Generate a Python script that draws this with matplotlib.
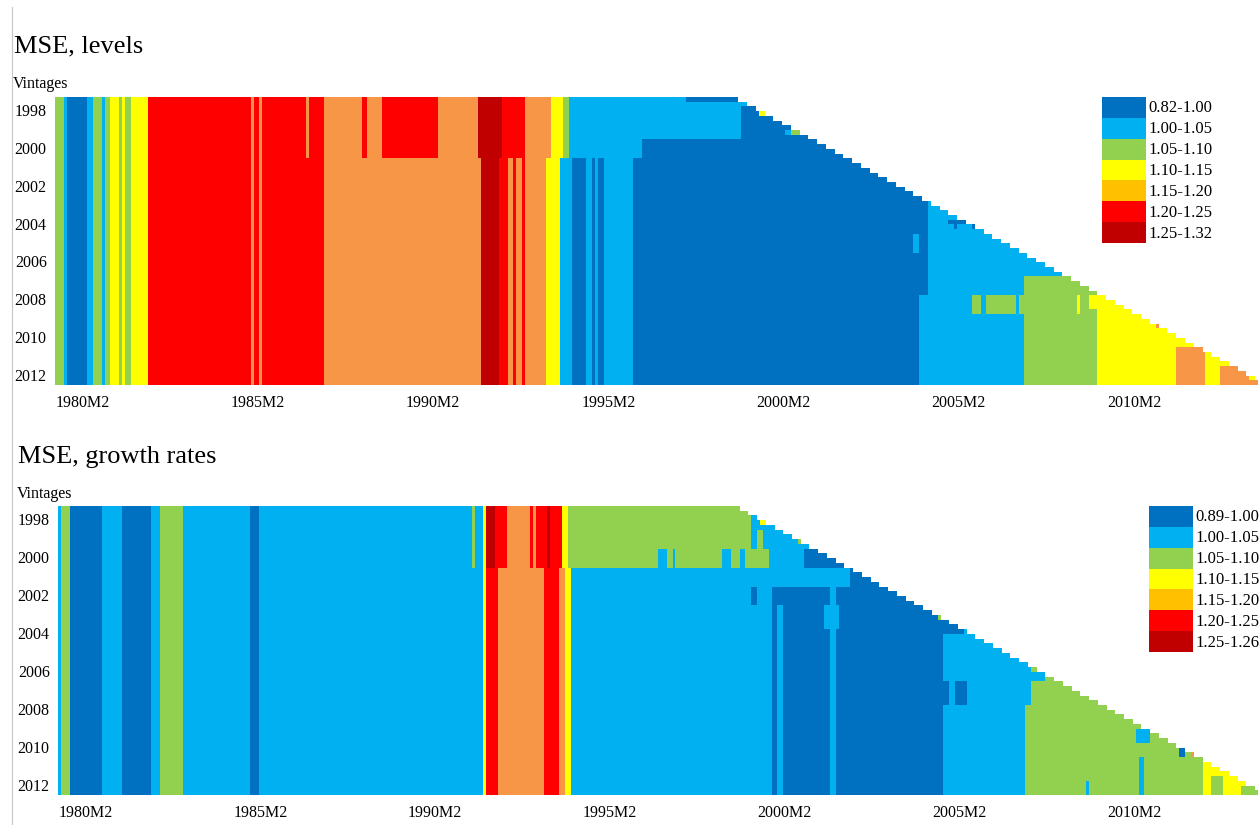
import numpy as np
import matplotlib.pyplot as plt
from matplotlib.colors import ListedColormap, BoundaryNorm
from matplotlib.lines import Line2D

plt.rcParams['font.family'] = ['Liberation Serif', 'DejaVu Serif']

# grid: months 1979M5..2013M8 (columns), quarterly vintages 1997Q3..2012Q3 (rows)
first_month = 1979 + 4 / 12
n_months = 412
first_vintage = 1997.5
n_vintages = 61
pub_lag = 4 / 3  # last month available in a vintage, in years after the vintage date

# class codes: 0 .. 6 (lowest to highest MSE ratio band)
cell_colors = ['#0070C0', '#00B0F0', '#92D050', '#FFFF00', '#F79646', '#FF0000', '#C00000']
legend_colors = ['#0070C0', '#00B0F0', '#92D050', '#FFFF00', '#FFC000', '#FF0000', '#C00000']
levels_labels = ['0.82-1.00', '1.00-1.05', '1.05-1.10', '1.10-1.15', '1.15-1.20', '1.20-1.25', '1.25-1.32']
growth_labels = ['0.89-1.00', '1.00-1.05', '1.05-1.10', '1.10-1.15', '1.15-1.20', '1.20-1.25', '1.25-1.26']

x_tick_labels = ['1980M2', '1985M2', '1990M2', '1995M2', '2000M2', '2005M2', '2010M2']
y_tick_labels = ['1998', '2000', '2002', '2004', '2006', '2008', '2010', '2012']

# ---- MSE, levels: pattern of the latest vintages (start of each band, in years)
levels_starts = [1979.33, 1979.56, 1979.65, 1980.25, 1980.42, 1980.67, 1980.73, 1980.90,
                 1981.16, 1981.24, 1981.33, 1981.50, 1981.96, 1984.92, 1984.98, 1985.15,
                 1985.27, 1987.00, 1991.48, 1991.97, 1992.22, 1992.45, 1992.54, 1992.65,
                 1992.71, 1993.31, 1993.76, 1994.08, 1994.48, 1994.70, 1994.79, 1994.85,
                 1994.96, 1995.82, 2003.98, 2007.00, 2009.11]
levels_classes = [2, 1, 0, 1, 2, 1, 2, 3,
                  2, 3, 2, 3, 5, 4, 5, 4,
                  5, 4, 6, 5, 4, 5, 4, 5,
                  4, 3, 1, 0, 1, 0, 1, 0,
                  1, 0, 1, 2, 3]
# blocks that differ in some vintages: (from, to, first vintage, last vintage, class)
levels_blocks = [
    (1986.50, 1986.59, 1997.5, 2000.75, 4),
    (1988.12, 1988.29, 1997.5, 2000.75, 5),
    (1988.63, 1990.23, 1997.5, 2000.75, 5),
    (1991.40, 1992.08, 1997.5, 2000.75, 6),
    (1992.08, 1992.71, 1997.5, 2000.75, 5),
    (1992.71, 1993.48, 1997.5, 2000.75, 4),
    (1993.48, 1993.82, 1997.5, 2000.75, 3),
    (1993.82, 1993.97, 1997.5, 2000.75, 2),
    (1993.97, 2014.00, 1997.5, 1999.75, 1),
    (1993.97, 1996.08, 1999.75, 2000.75, 1),
    (1996.08, 2014.00, 1999.75, 2000.75, 0),
    (1997.30, 2014.00, 1997.5, 1997.75, 0),
    (1998.93, 2014.00, 1998.0, 1999.75, 0),
    (1999.45, 1999.60, 1998.25, 1998.5, 3),
    (2000.15, 2000.35, 1999.25, 1999.5, 1),
    (2000.35, 2000.58, 1999.25, 1999.5, 2),
    (2003.98, 2004.26, 1997.5, 2007.9, 0),
    (2003.83, 2003.98, 2004.75, 2005.75, 1),
    (2007.00, 2009.11, 1997.5, 2006.9, 1),
    (2005.50, 2005.78, 2008.0, 2008.9, 2),
    (2005.92, 2006.77, 2008.0, 2008.9, 2),
    (2006.85, 2007.00, 2008.0, 2008.9, 2),
    (2008.50, 2008.62, 2008.0, 2008.9, 3),
    (2008.85, 2009.11, 2007.75, 2008.75, 3),
    (2011.33, 2012.30, 2010.75, 2011.0, 4),
    (2011.36, 2012.13, 2011.0, 2013.0, 4),
    (2012.62, 2014.00, 2011.6, 2013.0, 4),
    (2013.45, 2013.60, 2012.25, 2012.5, 3),
    # cells along the edge
    (2004.30, 2004.45, 2003.0, 2003.25, 3),
    (2004.45, 2004.55, 2003.0, 2003.25, 5),
    (2004.60, 2004.90, 2003.25, 2003.5, 2),
    (2004.80, 2005.35, 2003.95, 2004.25, 0),
    (2005.00, 2005.10, 2004.25, 2004.5, 0),
    (2005.50, 2005.80, 2004.25, 2004.5, 0),
    (2006.10, 2006.35, 2004.75, 2005.0, 0),
    (2006.70, 2006.85, 2005.25, 2005.5, 0),
    (2007.20, 2007.30, 2005.75, 2006.0, 2),
    (2007.30, 2007.60, 2006.0, 2006.25, 0),
    (2007.85, 2008.10, 2006.25, 2006.6, 0),
    (2008.10, 2008.30, 2006.5, 2006.75, 3),
    (2008.10, 2008.60, 2006.75, 2007.0, 0),
    (2008.60, 2008.75, 2007.0, 2007.25, 4),
    (2008.75, 2008.85, 2007.0, 2007.25, 6),
    (2008.85, 2009.10, 2007.75, 2008.0, 2),
    (2009.10, 2009.35, 2007.75, 2008.0, 1),
    (2010.05, 2010.25, 2008.75, 2009.0, 4),
    (2010.25, 2010.35, 2008.75, 2009.0, 5),
    (2010.40, 2010.55, 2009.0, 2009.25, 2),
    (2010.60, 2010.80, 2009.25, 2009.5, 4),
    (2010.80, 2010.90, 2009.25, 2009.5, 5),
    (2010.75, 2010.95, 2009.5, 2009.75, 4),
    (2011.36, 2011.60, 2010.0, 2010.25, 1),
    (2011.60, 2011.85, 2010.25, 2010.5, 5),
    (2012.30, 2012.40, 2010.75, 2011.0, 2),
]

# ---- MSE, growth rates
growth_starts = [1979.33, 1979.42, 1979.68, 1980.59, 1981.19, 1982.01, 1982.24, 1982.93,
                 1984.84, 1985.12, 1991.46, 1991.57, 1991.88, 1993.25, 1993.65, 1993.85,
                 1993.99, 1999.75, 1999.93, 2000.07, 2001.41, 2001.61, 2004.69, 2007.00,
                 2012.13, 2012.25, 2012.70, 2013.13]
growth_classes = [1, 2, 0, 1, 0, 1, 2, 1,
                  0, 1, 3, 5, 4, 5, 4, 3,
                  1, 0, 1, 0, 1, 0, 1, 2,
                  3, 2, 3, 2]
growth_blocks = [
    (1991.13, 1991.23, 1997.5, 2000.75, 2),
    (1991.57, 1991.82, 1997.5, 2000.75, 6),
    (1991.82, 1992.17, 1997.5, 2000.75, 5),
    (1992.17, 1992.82, 1997.5, 2000.75, 4),
    (1992.82, 1992.92, 1997.5, 2000.75, 5),
    (1992.92, 1993.00, 1997.5, 2000.75, 4),
    (1993.00, 1993.37, 1997.5, 2000.75, 5),
    (1993.37, 1993.45, 1997.5, 2000.75, 6),
    (1993.45, 1993.74, 1997.5, 2000.75, 5),
    (1993.74, 1993.88, 1997.5, 2000.75, 3),
    (1993.88, 1999.13, 1997.5, 1999.75, 2),
    (1999.13, 2014.00, 1997.5, 1999.75, 1),
    (1999.30, 1999.50, 1998.75, 1999.75, 2),
    (1999.45, 1999.60, 1998.25, 1998.5, 3),
    (1993.88, 1999.64, 1999.75, 2000.75, 2),
    (1996.50, 1996.73, 1999.75, 2000.75, 1),
    (1996.92, 1997.00, 1999.75, 2000.75, 1),
    (1998.33, 1998.59, 1999.75, 2000.75, 1),
    (1998.87, 1998.99, 1999.75, 2000.75, 1),
    (1999.64, 2000.70, 1999.75, 2000.75, 1),
    (2000.70, 2014.00, 1999.75, 2000.75, 0),
    (2000.50, 2000.60, 1999.25, 1999.5, 2),
    (1993.99, 2002.00, 2000.75, 2001.75, 1),
    (2002.00, 2014.00, 2000.75, 2001.75, 0),
    (1999.15, 1999.36, 2001.75, 2002.75, 0),
    (1999.93, 2000.07, 2001.75, 2002.75, 0),
    (2001.27, 2001.69, 2002.75, 2003.9, 1),
    (2004.50, 2004.60, 2003.25, 2003.5, 2),
    (2004.69, 2005.25, 2003.5, 2004.25, 0),
    (2005.50, 2005.85, 2004.0, 2004.25, 0),
    (2004.69, 2004.80, 2006.75, 2007.9, 0),
    (2005.00, 2005.30, 2006.75, 2007.9, 0),
    (2007.00, 2008.10, 1997.5, 2006.75, 1),
    (2007.00, 2007.20, 2006.75, 2007.9, 1),
    (2007.20, 2007.35, 2006.0, 2006.25, 2),
    (2007.55, 2007.85, 2006.5, 2006.75, 2),
    (2008.10, 2008.50, 2006.75, 2007.0, 1),
    (2008.50, 2008.65, 2006.75, 2007.0, 0),
    (2008.75, 2008.85, 2007.0, 2007.25, 3),
    (2008.95, 2009.05, 2007.25, 2007.5, 3),
    (2009.25, 2009.35, 2007.75, 2008.0, 1),
    (2010.25, 2010.40, 2008.75, 2009.0, 3),
    (2010.20, 2010.60, 2009.25, 2010.0, 1),
    (2011.45, 2011.60, 2010.25, 2010.6, 0),
    (2011.75, 2011.85, 2010.5, 2010.75, 4),
    (2008.77, 2008.87, 2012.0, 2013.0, 1),
    (2010.22, 2010.42, 2010.75, 2013.0, 1),
    (2012.05, 2012.30, 2011.0, 2013.0, 3),
    (2012.05, 2012.85, 2011.25, 2011.75, 3),
    (2013.13, 2013.30, 2012.0, 2012.25, 3),
]


def build_grid(starts, classes, blocks):
    mid = first_month + (np.arange(n_months) + 0.5) / 12
    vint = first_vintage + 0.25 * np.arange(n_vintages)
    idx = np.searchsorted(starts, mid, side='right') - 1
    grid = np.tile(np.array(classes)[idx], (n_vintages, 1)).astype(float)
    for x0, x1, v0, v1, c in blocks:
        cols = (mid >= x0) & (mid < x1)
        rows = (vint >= v0) & (vint < v1)
        grid[np.ix_(rows, cols)] = c
    avail = mid[None, :] < vint[:, None] + pub_lag
    return np.ma.masked_where(~avail, grid)


W, H = 1259, 825
fig = plt.figure(figsize=(W / 100, H / 100), dpi=100)

cmap = ListedColormap(cell_colors)
norm = BoundaryNorm(np.arange(-0.5, 7.5, 1), cmap.N)
xe = first_month + np.arange(n_months + 1) / 12
ye = first_vintage + 0.25 * np.arange(n_vintages + 1)

panels = [
    ('MSE, levels', levels_starts, levels_classes, levels_blocks, levels_labels,
     [55, 97, 1203, 288], (14, 52), (13, 88), (1102, 97)),
    ('MSE, growth rates', growth_starts, growth_classes, growth_blocks, growth_labels,
     [58, 506, 1200, 289], (18, 463), (17, 498), (1149, 506)),
]

for title, starts, classes, blocks, labels, box, tpos, vpos, lpos in panels:
    l, t, w, h = box
    ax = fig.add_axes([l / W, 1 - (t + h) / H, w / W, h / H])
    grid = build_grid(starts, classes, blocks)
    ax.pcolormesh(xe, ye, grid, cmap=cmap, norm=norm, shading='flat')
    ax.set_xlim(xe[0], xe[-1])
    ax.set_ylim(ye[-1], ye[0])
    for s in ax.spines.values():
        s.set_visible(False)
    ax.set_xticks([int(lab[:4]) + 0.125 for lab in x_tick_labels])
    ax.set_xticklabels(x_tick_labels)
    ax.set_yticks([int(lab) + 0.2 for lab in y_tick_labels])
    ax.set_yticklabels(y_tick_labels)
    ax.tick_params(length=0, labelsize=11.5)
    ax.tick_params(axis='x', pad=7)
    ax.tick_params(axis='y', pad=6)

    fig.text(tpos[0] / W, 1 - tpos[1] / H, title, fontsize=19, ha='left', va='baseline')
    fig.text(vpos[0] / W, 1 - vpos[1] / H, 'Vintages', fontsize=11.5, ha='left', va='baseline')

    # colour key: seven stacked boxes with their ranges
    lx, ly = lpos
    lax = fig.add_axes([lx / W, 1 - (ly + 146) / H, 44 / W, 146 / H])
    lax.barh(np.arange(len(labels)), np.ones(len(labels)), height=1.0,
             color=legend_colors, edgecolor='none')
    lax.set_xlim(0, 1)
    lax.set_ylim(len(labels) - 0.5, -0.5)
    lax.axis('off')
    for i, lab in enumerate(labels):
        lax.text(1.06, i + 0.05, lab, fontsize=12, ha='left', va='center', clip_on=False)

# thin page border on the left
fig.add_artist(Line2D([12 / W, 12 / W], [0, 1 - 7 / H], color='#c8c8c8', lw=0.8,
                      transform=fig.transFigure))

fig.savefig('out.png', dpi=100)
